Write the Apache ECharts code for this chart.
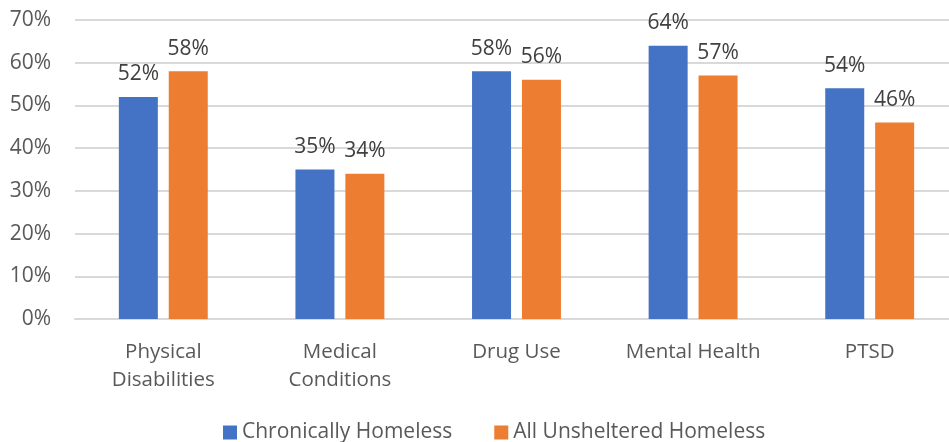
<!DOCTYPE html>
<html>
<head>
<meta charset="utf-8">
<script src="https://cdn.jsdelivr.net/npm/echarts@6/dist/echarts.min.js"></script>
<style>html,body{margin:0;padding:0;background:#fff}#c{width:949px;height:442px}</style>
</head>
<body>
<div id="c"></div>
<script>
const categories = ['Physical\nDisabilities', 'Medical\nConditions', 'Drug Use', 'Mental Health', 'PTSD'];
const chronic = [52, 35, 58, 64, 54];
const unsheltered = [58, 34, 56, 57, 46];
const seriesNames = ['Chronically Homeless', 'All Unsheltered Homeless'];
const FONT = 'Open Sans';
const chart = echarts.init(document.getElementById('c'));
const labelStyle = {show: true, position: 'top', distance: 12, formatter: p => p.value + '%', color: '#404040', fontSize: 21, fontFamily: FONT};
chart.setOption({
  animation: false,
  grid: {left: 75, top: 20, width: 883, bottom: 123, outerBoundsMode: 'none', containLabel: false},
  legend: {
    bottom: -6, left: 218, itemWidth: 14, itemHeight: 14, itemGap: 42,
    icon: 'rect',
    textStyle: {color: '#595959', fontSize: 21, fontFamily: FONT},
    data: seriesNames
  },
  xAxis: {
    type: 'category', data: categories,
    axisLine: {show: true, lineStyle: {color: '#D9D9D9', width: 2}},
    axisTick: {show: false},
    axisLabel: {color: '#595959', fontSize: 20.5, fontFamily: FONT, lineHeight: 28, margin: 19}
  },
  yAxis: {
    type: 'value', min: 0, max: 70, interval: 10,
    axisLabel: {formatter: '{value}%', color: '#595959', fontSize: 21, fontFamily: FONT, margin: 24},
    splitLine: {lineStyle: {color: '#D9D9D9', width: 2}},
    axisLine: {show: false}, axisTick: {show: false}
  },
  series: [
    {name: seriesNames[0], type: 'bar', data: chronic, barWidth: 39, barGap: '28%', itemStyle: {color: '#4472C4'}, label: labelStyle},
    {name: seriesNames[1], type: 'bar', data: unsheltered, barWidth: 39, itemStyle: {color: '#ED7D31'}, label: labelStyle}
  ]
});
</script>
</body>
</html>
